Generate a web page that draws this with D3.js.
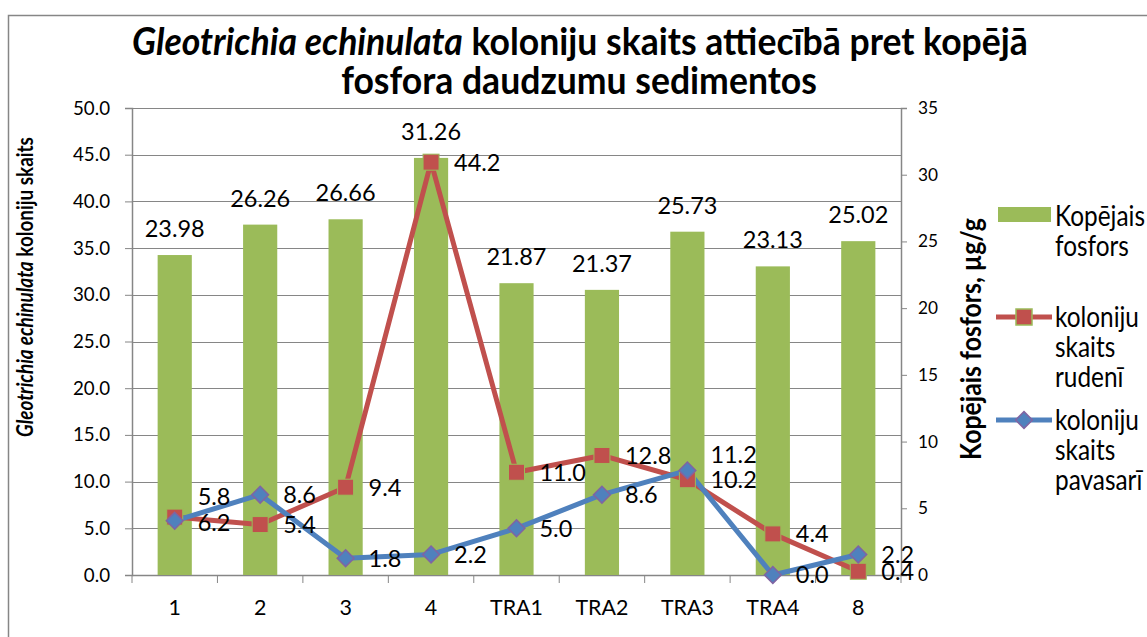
<!DOCTYPE html>
<html><head><meta charset="utf-8">
<script src="https://cdn.jsdelivr.net/npm/d3@7"></script>
<style>body{margin:0;background:#fff}svg{display:block}</style>
</head><body>
<svg id="c" width="1147" height="637"></svg>
<script>
const categories = ["1","2","3","4","TRA1","TRA2","TRA3","TRA4","8"];
const phosphorus = [23.98,26.26,26.66,31.26,21.87,21.37,25.73,23.13,25.02];
const autumn = [6.2,5.4,9.4,44.2,11.0,12.8,10.2,4.4,0.4];
const spring = [5.8,8.6,1.8,2.2,5.0,8.6,11.2,0.0,2.2];
const leftTicks = [0,5,10,15,20,25,30,35,40,45,50];
const rightTicks = [0,5,10,15,20,25,30,35];
const legendLines = [["Kopējais","fosfors"],["koloniju","skaits","rudenī"],["koloniju","skaits","pavasarī"]];

const FONT = "Lato, 'Open Sans', sans-serif";
const svg = d3.select("#c").style("font-family", FONT);
const L = 132, R = 901, T = 108, B = 575;
const SX = 0.85; // horizontal condensation to mimic a narrow font

// font size that makes a sample string reach a target width
function fit(parts, target, weight) {
  const t = svg.append("text").attr("font-size",100).attr("font-weight",weight||"normal");
  parts.forEach(p => t.append("tspan").attr("font-style", p[1] ? "italic" : "normal").text(p[0]));
  const w = t.node().getComputedTextLength();
  t.remove();
  return 100 * target / w;
}
const fsTitle = fit([["Gleotrichia echinulata",1],[" koloniju skaits attiecībā pret kopējā",0]], 896/0.94, "bold");
const fsData = fit([["23.98",0]], 60);
const fsCat = fit([["TRA1",0]], 53);
const fsLeft = fit([["50.0",0]], 37);
const fsRight = fit([["35",0]], 20);
const fsLegend = fit([["koloniju",0]], 84/SX);
const fsLTitle = fit([["Gleotrichia echinulata",1],[" koloniju skaits",0]], 300/SX, "bold");
const fsRTitle = fit([["Kopējais fosfors, µg/g",0]], 242/SX, "bold");

const x = d3.scaleBand().domain(categories).range([L, R]);
const yL = d3.scaleLinear().domain([0,50]).range([B, T]);
const yR = d3.scaleLinear().domain([0,35]).range([B, T]);
const grey = "#868686";
const cBar = "#9BBB59", cRed = "#C0504D", cBlue = "#4F81BD", cPurple = "#8064A2";

// chart border
svg.append("rect").attr("x",8.5).attr("y",15.5).attr("width",1200).attr("height",700)
  .attr("fill","none").attr("stroke",grey).attr("stroke-width",1.5);

// gridlines
svg.append("g").selectAll("line").data(leftTicks).join("line")
  .attr("x1",L).attr("x2",R).attr("y1",d=>Math.round(yL(d))+0.5).attr("y2",d=>Math.round(yL(d))+0.5)
  .attr("stroke",grey).attr("stroke-width",1);

// axes
const gl = svg.append("g").attr("transform",`translate(${L},0)`)
  .call(d3.axisLeft(yL).tickValues(leftTicks).tickFormat(d3.format(".1f")).tickSize(7).tickPadding(15));
const gr = svg.append("g").attr("transform",`translate(${R},0)`)
  .call(d3.axisRight(yR).tickValues(rightTicks).tickFormat(d3.format("d")).tickSize(6).tickPadding(11));
const gb = svg.append("g").attr("transform",`translate(0,${B})`)
  .call(d3.axisBottom(x).tickSize(0).tickPadding(25));
gb.append("g").selectAll("line").data(d3.range(categories.length+1)).join("line")
  .attr("x1",i=>L + i*x.step()).attr("x2",i=>L + i*x.step()).attr("y1",0).attr("y2",8)
  .attr("stroke",grey);
[[gl,fsLeft],[gr,fsRight],[gb,fsCat]].forEach(([g,fs])=>{
  g.selectAll("path.domain").attr("stroke",grey).attr("stroke-width",1.5);
  g.selectAll(".tick line").attr("stroke",grey);
  g.attr("font-size",fs).attr("font-family",FONT);
  g.selectAll("text").attr("fill","#000");
});

// bars
const bw = x.bandwidth()/2.5;
svg.append("g").selectAll("rect").data(phosphorus).join("rect")
  .attr("x",(d,i)=>x(categories[i]) + (x.bandwidth()-bw)/2)
  .attr("width",bw)
  .attr("y",d=>yR(d)).attr("height",d=>B-yR(d)).attr("fill",cBar);

// lines
const cx = i => x(categories[i]) + x.bandwidth()/2;
const line = d3.line().x((d,i)=>cx(i)).y(d=>yL(d));
svg.append("path").datum(autumn).attr("d",line).attr("fill","none").attr("stroke",cRed).attr("stroke-width",5).attr("stroke-linejoin","round");
svg.append("path").datum(spring).attr("d",line).attr("fill","none").attr("stroke",cBlue).attr("stroke-width",5).attr("stroke-linejoin","round");

// markers
svg.append("g").selectAll("rect").data(autumn).join("rect")
  .attr("x",(d,i)=>cx(i)-8).attr("y",d=>yL(d)-8).attr("width",16).attr("height",16)
  .attr("fill",cRed).attr("stroke",cBar).attr("stroke-width",1);
const diamond = d3.symbol().type(d3.symbolDiamond2 || d3.symbolSquare2).size(180);
svg.append("g").selectAll("path").data(spring).join("path")
  .attr("transform",(d,i)=>`translate(${cx(i)},${yL(d)}) rotate(${d3.symbolDiamond2?0:45})`)
  .attr("d",diamond).attr("fill",cBlue).attr("stroke",cPurple).attr("stroke-width",1.5);

// bar labels
svg.append("g").selectAll("text").data(phosphorus).join("text")
  .attr("x",(d,i)=>cx(i)).attr("y",d=>yR(d)-18)
  .attr("text-anchor","middle").attr("font-size",fsData).text(d=>d.toFixed(2));

// line labels
const blueNudge = [-24,0,0,0,0,0,-16,0,0];
const redNudge = [5,0,0,0,0,0,0,0,0];
svg.append("g").selectAll("text").data(autumn).join("text")
  .attr("x",(d,i)=>cx(i)+23).attr("y",(d,i)=>yL(d)+redNudge[i]).attr("dy","0.36em")
  .attr("font-size",fsData).text(d=>d.toFixed(1));
svg.append("g").selectAll("text").data(spring).join("text")
  .attr("x",(d,i)=>cx(i)+23).attr("y",(d,i)=>yL(d)+blueNudge[i]).attr("dy","0.36em")
  .attr("font-size",fsData).text(d=>d.toFixed(1));

// title
const tl1 = svg.append("text").attr("transform","translate(580,55) scale(0.94,1)")
  .attr("text-anchor","middle").attr("font-weight","bold").attr("font-size",fsTitle);
tl1.append("tspan").attr("font-style","italic").text("Gleotrichia echinulata");
tl1.append("tspan").text(" koloniju skaits attiecībā pret kopējā");
svg.append("text").attr("transform","translate(579,94) scale(0.94,1)")
  .attr("text-anchor","middle").attr("font-weight","bold").attr("font-size",fsTitle)
  .text("fosfora daudzumu sedimentos");

// axis titles
const lt = svg.append("text").attr("transform",`translate(33,287) rotate(-90) scale(${SX},1)`)
  .attr("text-anchor","middle").attr("font-weight","bold").attr("font-size",fsLTitle);
lt.append("tspan").attr("font-style","italic").text("Gleotrichia echinulata");
lt.append("tspan").text(" koloniju skaits");
svg.append("text").attr("transform",`translate(981,339) rotate(-90) scale(${SX},1)`)
  .attr("text-anchor","middle").attr("font-weight","bold").attr("font-size",fsRTitle)
  .text("Kopējais fosfors, µg/g");

// legend
const lg = svg.append("g");
lg.append("rect").attr("x",998).attr("y",207).attr("width",53).attr("height",15).attr("fill",cBar);
const legendY = [216,317,420];
legendLines.forEach((ls,k)=>{
  const t = lg.append("text").attr("transform",`translate(1055,${legendY[k]}) scale(${SX},1)`).attr("font-size",fsLegend);
  ls.forEach((s,j)=>t.append("tspan").attr("x",0).attr("y",j*30).attr("dy","0.36em").text(s));
});
lg.append("line").attr("x1",996).attr("x2",1052).attr("y1",317).attr("y2",317).attr("stroke",cRed).attr("stroke-width",5);
lg.append("rect").attr("x",1016).attr("y",309).attr("width",16).attr("height",16).attr("fill",cRed).attr("stroke",cBar).attr("stroke-width",1.5);
lg.append("line").attr("x1",996).attr("x2",1052).attr("y1",420).attr("y2",420).attr("stroke",cBlue).attr("stroke-width",5);
lg.append("path").attr("transform",`translate(1024,420) rotate(${d3.symbolDiamond2?0:45})`).attr("d",diamond)
  .attr("fill",cBlue).attr("stroke",cPurple).attr("stroke-width",1.5);
</script>
</body></html>
